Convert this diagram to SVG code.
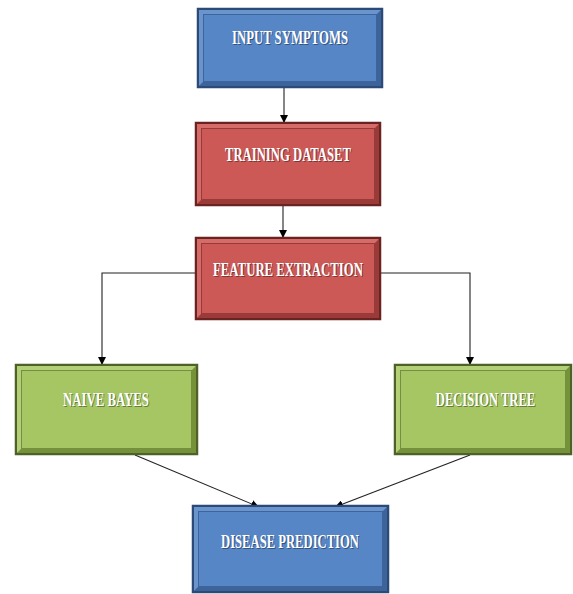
<svg xmlns="http://www.w3.org/2000/svg" width="573" height="594" viewBox="0 0 573 594">
<style>
.lbl{font-family:"Liberation Serif","Times New Roman",serif;font-weight:bold;font-size:18px;fill:#ffffff;text-anchor:middle}
.shd{font-family:"Liberation Serif","Times New Roman",serif;font-weight:bold;font-size:18px;fill:#000;fill-opacity:.4;text-anchor:middle}
.blue .o{fill:#5686c6;stroke:#2c4a78;stroke-width:2.5}
.blue .hl{fill:#6994cc}
.blue .sh{fill:#3d649a}
.blue .in{fill:none;stroke:#2c4a78;stroke-opacity:.55}
.red .o{fill:#cd5957;stroke:#6b2321;stroke-width:2.5}
.red .hl{fill:#d66c6a}
.red .sh{fill:#9a3b39}
.red .in{fill:none;stroke:#6b2321;stroke-opacity:.55}
.green .o{fill:#a5c663;stroke:#4e6228;stroke-width:2.5}
.green .hl{fill:#b3cf78}
.green .sh{fill:#75913a}
.green .in{fill:none;stroke:#4e6228;stroke-opacity:.55}
.c{fill:none;stroke:#222;stroke-width:1.1;marker-end:url(#arr)}
</style>
<defs>
<marker id="arr" markerWidth="8" markerHeight="8" refX="8" refY="4" orient="auto" markerUnits="userSpaceOnUse">
<path d="M0,0 L8,4 L0,8 Z" fill="#000"/>
</marker>
</defs>

<g id="connectors">
<path class="c" d="M284,87 V123"/>
<path class="c" d="M283,205 V238"/>
<path class="c" d="M196,273 H102 V365"/>
<path class="c" d="M380,273 H470 V365"/>
<path class="c" d="M135,455 L259,507"/>
<path class="c" d="M470,455 L335,507"/>
</g>

<g id="input-symptoms" class="blue">
<rect class="o" x="198" y="9" width="184" height="78"/>
<path class="hl" d="M199,10 H381 L377,14 H203 V82 L199,86 Z"/>
<path class="sh" d="M381,10 V86 H199 L203,82 H377 V14 Z"/>
<rect class="in" x="203.5" y="14.5" width="173" height="67"/>
<text class="shd" x="291" y="45" textLength="116" lengthAdjust="spacingAndGlyphs">INPUT SYMPTOMS</text>
<text class="lbl" x="290" y="44" textLength="116" lengthAdjust="spacingAndGlyphs">INPUT SYMPTOMS</text>
</g>

<g id="training-dataset" class="red">
<rect class="o" x="196" y="123" width="184" height="82"/>
<path class="hl" d="M197,124 H379 L375,128 H201 V200 L197,204 Z"/>
<path class="sh" d="M379,124 V204 H197 L201,200 H375 V128 Z"/>
<rect class="in" x="201.5" y="128.5" width="173" height="71"/>
<text class="shd" x="289" y="162" textLength="126" lengthAdjust="spacingAndGlyphs">TRAINING DATASET</text>
<text class="lbl" x="288" y="161" textLength="126" lengthAdjust="spacingAndGlyphs">TRAINING DATASET</text>
</g>

<g id="feature-extraction" class="red">
<rect class="o" x="196" y="238" width="184" height="81"/>
<path class="hl" d="M197,239 H379 L375,243 H201 V314 L197,318 Z"/>
<path class="sh" d="M379,239 V318 H197 L201,314 H375 V243 Z"/>
<rect class="in" x="201.5" y="243.5" width="173" height="70"/>
<text class="shd" x="289" y="277" textLength="150" lengthAdjust="spacingAndGlyphs">FEATURE EXTRACTION</text>
<text class="lbl" x="288" y="276" textLength="150" lengthAdjust="spacingAndGlyphs">FEATURE EXTRACTION</text>
</g>

<g id="naive-bayes" class="green">
<rect class="o" x="16" y="365" width="181" height="89"/>
<path class="hl" d="M17,366 H196 L192,370 H21 V449 L17,453 Z"/>
<path class="sh" d="M196,366 V453 H17 L21,449 H192 V370 Z"/>
<rect class="in" x="21.5" y="370.5" width="170" height="78"/>
<text class="shd" x="107" y="407" textLength="86" lengthAdjust="spacingAndGlyphs">NAIVE BAYES</text>
<text class="lbl" x="106" y="406" textLength="86" lengthAdjust="spacingAndGlyphs">NAIVE BAYES</text>
</g>

<g id="decision-tree" class="green">
<rect class="o" x="395" y="365" width="176" height="89"/>
<path class="hl" d="M396,366 H570 L566,370 H400 V449 L396,453 Z"/>
<path class="sh" d="M570,366 V453 H396 L400,449 H566 V370 Z"/>
<rect class="in" x="400.5" y="370.5" width="165" height="78"/>
<text class="shd" transform="translate(486.5,407) scale(0.7,1)">DECISION TREE</text>
<text class="lbl" transform="translate(485.5,406) scale(0.7,1)">DECISION TREE</text>
</g>

<g id="disease-prediction" class="blue">
<rect class="o" x="193" y="506" width="195" height="86"/>
<path class="hl" d="M194,507 H387 L383,511 H198 V587 L194,591 Z"/>
<path class="sh" d="M387,507 V591 H194 L198,587 H383 V511 Z"/>
<rect class="in" x="198.5" y="511.5" width="184" height="75"/>
<text class="shd" x="291" y="549" textLength="138" lengthAdjust="spacingAndGlyphs">DISEASE PREDICTION</text>
<text class="lbl" x="290" y="548" textLength="138" lengthAdjust="spacingAndGlyphs">DISEASE PREDICTION</text>
</g>
</svg>
